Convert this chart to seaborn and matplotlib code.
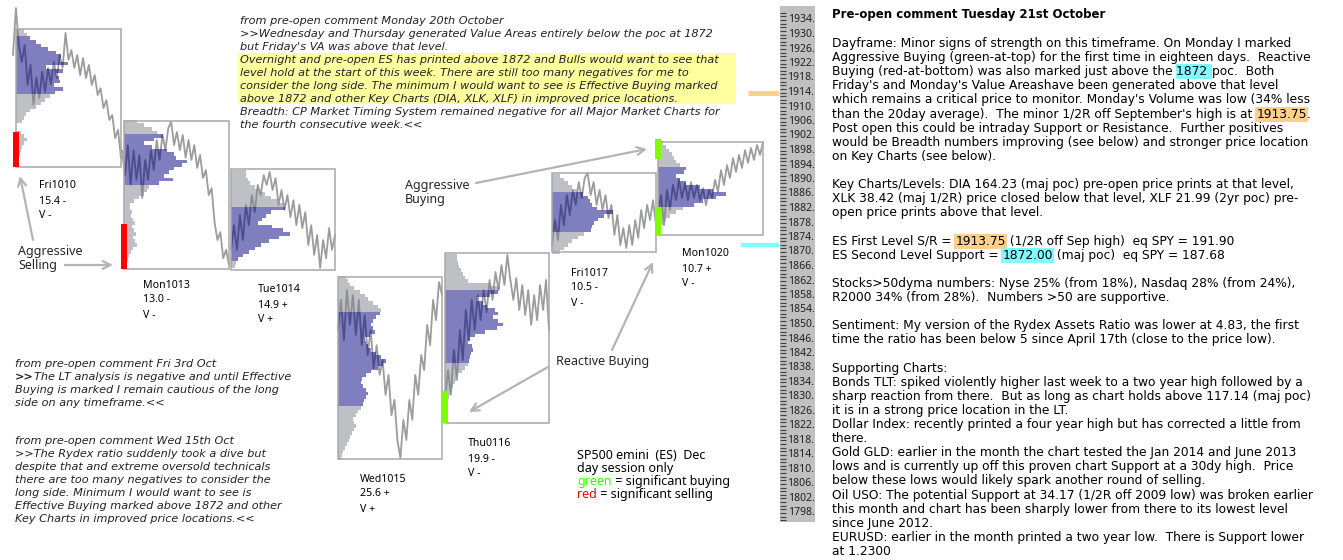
import numpy as np
import pandas as pd
import matplotlib
matplotlib.use("Agg")
import matplotlib.pyplot as plt
from matplotlib.patches import Rectangle
import seaborn as sns

# ------------------------------------------------------------------ data
days = ["Fri1010", "Mon1013", "Tue1014", "Wed1015", "Thu0116", "Fri1017", "Mon1020"]
day_range = ["15.4 -", "13.0 -", "14.9 +", "25.6 +", "19.9 -", "10.5 -", "10.7 +"]
day_volume = ["V -", "V -", "V +", "V +", "V -", "V -", "V -"]

window_high = [1931.5, 1906.1, 1892.8, 1863.0, 1869.8, 1891.7, 1900.4]
window_low = [1893.4, 1865.3, 1865.0, 1812.8, 1822.7, 1870.0, 1874.7]

price_fri1010 = [1924.3, 1937.3, 1927.1, 1922.4, 1927.1, 1916.1, 1921.6, 1910.6, 1918.0, 1912.5,
                 1919.7, 1914.1, 1920.8, 1916.3, 1922.4, 1918.0, 1924.3, 1920.8, 1930.4, 1923.0,
                 1925.7, 1920.8, 1924.3, 1918.8, 1923.5, 1918.0, 1921.6, 1916.1, 1918.8, 1913.3,
                 1915.2, 1909.7, 1911.9, 1906.4, 1907.8, 1901.4, 1903.7, 1895.9]
price_mon1013 = [1898.1, 1891.2, 1899.5, 1888.5, 1898.1, 1889.9, 1896.8, 1884.9, 1895.4, 1889.9,
                 1898.1, 1892.6, 1900.9, 1895.4, 1902.3, 1898.1, 1904.2, 1905.9, 1899.5, 1903.1,
                 1898.1, 1902.3, 1896.0, 1900.9, 1895.4, 1899.5, 1893.2, 1896.8, 1890.4, 1892.6,
                 1885.7, 1887.6, 1878.3, 1873.3, 1875.5, 1868.3, 1870.6, 1866.4]
price_tue1014 = [1870.6, 1877.4, 1870.6, 1880.2, 1873.3, 1883.0, 1877.4, 1885.7, 1881.0, 1888.5,
                 1885.7, 1891.2, 1888.5, 1892.1, 1887.1, 1890.4, 1883.0, 1887.1, 1881.7, 1885.7,
                 1879.6, 1884.3, 1877.4, 1883.0, 1876.6, 1881.0, 1871.9, 1877.4, 1869.2, 1874.7,
                 1865.6, 1873.3, 1868.3, 1876.6, 1870.6, 1874.7]
price_wed1015 = [1848.5, 1856.8, 1845.7, 1859.5, 1849.9, 1858.1, 1847.1, 1856.8, 1844.3, 1852.6,
                 1841.6, 1848.5, 1838.0, 1844.3, 1836.1, 1840.2, 1830.6, 1836.1, 1825.0, 1829.2,
                 1818.1, 1813.2, 1823.7, 1818.1, 1829.2, 1823.7, 1836.1, 1830.6, 1841.6, 1837.4,
                 1849.9, 1844.3, 1856.8, 1851.2, 1861.7, 1858.1]
price_thu1016 = [1829.2, 1837.4, 1830.6, 1843.0, 1834.7, 1848.5, 1840.2, 1854.0, 1845.7, 1856.8,
                 1848.5, 1858.1, 1851.2, 1859.5, 1853.4, 1862.3, 1856.8, 1864.5, 1859.5, 1866.4,
                 1860.9, 1869.2, 1862.3, 1856.8, 1862.8, 1854.0, 1860.9, 1852.6, 1859.5, 1849.9,
                 1858.1, 1851.2, 1860.9, 1854.0, 1862.3, 1848.5]
price_fri1017 = [1871.9, 1878.8, 1873.3, 1883.0, 1877.4, 1885.7, 1880.2, 1887.1, 1883.0, 1889.3,
                 1884.9, 1890.4, 1891.8, 1885.7, 1889.3, 1883.0, 1887.1, 1881.6, 1885.7, 1879.4,
                 1883.0, 1874.7, 1880.2, 1871.9, 1876.6, 1871.1, 1877.4, 1871.9, 1878.8, 1873.9,
                 1881.6, 1876.6, 1883.0, 1878.8, 1884.3, 1877.4]
price_mon1020 = [1880.2, 1885.7, 1877.4, 1887.1, 1881.6, 1888.5, 1884.3, 1889.9, 1884.9, 1889.0,
                 1884.3, 1889.3, 1884.9, 1888.5, 1884.3, 1887.6, 1882.9, 1887.1, 1884.9, 1889.9,
                 1886.6, 1892.6, 1888.5, 1894.0, 1890.4, 1895.9, 1892.1, 1896.8, 1893.2, 1898.1,
                 1894.6, 1898.7, 1895.4, 1899.5, 1896.8, 1900.3]
prices = [price_fri1010, price_mon1013, price_tue1014, price_wed1015,
          price_thu1016, price_fri1017, price_mon1020]

# volume profile (one row per index point, from profile_top downwards)
profile_top = [1931, 1906, 1892, 1863, 1869, 1891, 1900]
profile_fri1010 = [8, 11, 14, 20, 25, 32, 40, 45, 44, 52, 30, 47, 40, 43, 44, 38, 47, 39,
                   34, 29, 25, 20, 14, 10, 8, 6, 0, 0, 5, 8, 11, 8, 6, 5, 4, 3]
profile_mon1013 = [13, 20, 28, 33, 39, 30, 20, 28, 43, 50, 52, 63, 58, 50, 45, 40, 49, 35,
                   25, 23, 20, 15, 10, 6, 6, 8, 7, 9, 11, 8, 10, 12, 9, 11, 13, 9, 7, 5, 4, 3]
profile_tue1014 = [15, 15, 17, 19, 24, 28, 34, 40, 47, 52, 54, 40, 35, 31, 27, 41, 52, 59,
                   48, 38, 30, 24, 18, 12, 7, 5, 4]
profile_wed1015 = [8, 10, 12, 16, 22, 27, 30, 35, 40, 43, 42, 38, 35, 33, 35, 37, 32, 27, 28,
                   30, 33, 38, 43, 48, 45, 40, 33, 28, 24, 23, 25, 28, 30, 28, 26, 25, 23, 20,
                   18, 15, 16, 18, 16, 14, 12, 11, 9, 7, 5, 4, 3]
profile_thu1016 = [12, 12, 13, 14, 16, 18, 20, 23, 45, 55, 53, 45, 32, 38, 42, 50, 53, 48, 53,
                   58, 52, 40, 30, 25, 23, 27, 28, 26, 25, 24, 23, 20, 17, 13, 11, 10, 8, 6, 5,
                   4, 3, 3, 2]
profile_fri1017 = [8, 12, 16, 20, 25, 31, 36, 38, 40, 45, 61, 52, 46, 42, 40, 39, 32, 26, 20,
                   16, 12, 8]
profile_mon1020 = [5, 8, 11, 14, 16, 18, 22, 28, 26, 18, 22, 28, 42, 55, 68, 58, 45, 36, 25,
                   18, 12, 8, 5]
profiles = [profile_fri1010, profile_mon1013, profile_tue1014, profile_wed1015,
            profile_thu1016, profile_fri1017, profile_mon1020]
value_area_high = [1929, 1902, 1882, 1853, 1859, 1886, 1893]
value_area_low = [1914, 1889, 1868, 1828, 1840, 1876, 1883]

# significant buying / selling marks
signal_day = [0, 1, 4, 6, 6]
signal_side = ["sell", "sell", "buy", "buy", "buy"]
signal_low = [1893.4, 1865.3, 1822.8, 1895.6, 1874.7]
signal_high = [1903.1, 1877.7, 1831.7, 1901.2, 1882.4]

key_levels = [1913.75, 1872.00]
scale_ticks = list(range(1798, 1935, 4))

# ------------------------------------------------------------------ texts
title_right = "Pre-open comment Tuesday 21st October"
ORANGE_HL = "#ffd08a"
CYAN_HL = "#80ffff"
right_lines = [
    ["Dayframe: Minor signs of strength on this timeframe. On Monday I marked"],
    ["Aggressive Buying (green-at-top) for the first time in eighteen days.  Reactive"],
    ["Buying (red-at-bottom) was also marked just above the ", ("1872 ", {"bg": CYAN_HL}), "poc.  Both"],
    ["Friday's and Monday's Value Areashave been generated above that level"],
    ["which remains a critical price to monitor. Monday's Volume was low (34% less"],
    ["than the 20day average).  The minor 1/2R off September's high is at ",
     ("1913.75", {"bg": ORANGE_HL}), "."],
    ["Post open this could be intraday Support or Resistance.  Further positives"],
    ["would be Breadth numbers improving (see below) and stronger price location"],
    ["on Key Charts (see below)."],
    [],
    ["Key Charts/Levels: DIA 164.23 (maj poc) pre-open price prints at that level,"],
    ["XLK 38.42 (maj 1/2R) price closed below that level, XLF 21.99 (2yr poc) pre-"],
    ["open price prints above that level."],
    [],
    ["ES First Level S/R = ", ("1913.75", {"bg": ORANGE_HL}), " (1/2R off Sep high)  eq SPY = 191.90"],
    ["ES Second Level Support = ", ("1872.00", {"bg": CYAN_HL}), " (maj poc)  eq SPY = 187.68"],
    [],
    ["Stocks>50dyma numbers: Nyse 25% (from 18%), Nasdaq 28% (from 24%),"],
    ["R2000 34% (from 28%).  Numbers >50 are supportive."],
    [],
    ["Sentiment: My version of the Rydex Assets Ratio was lower at 4.83, the first"],
    ["time the ratio has been below 5 since April 17th (close to the price low)."],
    [],
    ["Supporting Charts:"],
    ["Bonds TLT: spiked violently higher last week to a two year high followed by a"],
    ["sharp reaction from there.  But as long as chart holds above 117.14 (maj poc)"],
    ["it is in a strong price location in the LT."],
    ["Dollar Index: recently printed a four year high but has corrected a little from"],
    ["there."],
    ["Gold GLD: earlier in the month the chart tested the Jan 2014 and June 2013"],
    ["lows and is currently up off this proven chart Support at a 30dy high.  Price"],
    ["below these lows would likely spark another round of selling."],
    ["Oil USO: The potential Support at 34.17 (1/2R off 2009 low) was broken earlier"],
    ["this month and chart has been sharply lower from there to its lowest level"],
    ["since June 2012."],
    ["EURUSD: earlier in the month printed a two year low.  There is Support lower"],
    ["at 1.2300"],
]
note_top = [
    ["from pre-open comment Monday 20th October"],
    [">>Wednesday and Thursday generated Value Areas entirely below the poc at 1872"],
    ["but Friday's VA was above that level."],
    ["Overnight and pre-open ES has printed above 1872 and Bulls would want to see that"],
    ["level hold at the start of this week. There are still too many negatives for me to"],
    ["consider the long side. The minimum I would want to see is Effective Buying marked"],
    ["above 1872 and other Key Charts (DIA, XLK, XLF) in improved price locations."],
    ["Breadth: CP Market Timing System remained negative for all Major Market Charts for"],
    ["the fourth consecutive week.<<"],
]
note_oct3 = [
    ["from pre-open comment Fri 3rd Oct"],
    [(">>", {"weight": "bold"}), "The LT analysis is negative and until Effective"],
    ["Buying is marked I remain cautious of the long"],
    ["side on any timeframe.<<"],
]
note_oct15 = [
    ["from pre-open comment Wed 15th Oct"],
    [">>The Rydex ratio suddenly took a dive but"],
    ["despite that and extreme oversold technicals"],
    ["there are too many negatives to consider the"],
    ["long side. Minimum I would want to see is"],
    ["Effective Buying marked above 1872 and other"],
    ["Key Charts in improved price locations.<<"],
]
legend_lines = [
    ["SP500 emini  (ES)  Dec"],
    ["day session only"],
    [("green", {"color": "#33ff00"}), " = significant buying"],
    [("red", {"color": "#ff0000"}), " = significant selling"],
]

# ------------------------------------------------------------------ layout / style
W, H = 1343, 560
PX_PER_PT = 3.625
P_TOP = 1934 + 20 / PX_PER_PT
P_BOT = P_TOP - H / PX_PER_PT
panel_left = [16, 124, 231, 338, 445, 552, 658]
panel_right = [121, 229, 335, 442, 549, 656, 763]
line_start = [13, 122, 231, 338, 445, 552, 658]
label_xy = [(39, 186), (143, 285), (258, 290), (360, 479), (468, 444), (571, 273), (682, 254)]

VA_COLOR = "#000080"
OUT_COLOR = "#80808f"
LINE_COLOR = "#9c9c9c"
BOX_COLOR = "#a8a8a8"
ARROW_COLOR = "#b4b4b4"
SIDE_COLOR = {"sell": "#ff0000", "buy": "#80ff00"}

sns.set_theme(style="white")
plt.rcParams["font.family"] = ["DejaVu Sans"]

fig = plt.figure(figsize=(W / 100, H / 100), dpi=100)
fig.patch.set_facecolor("white")

# ---------------- market profile panels
ax = fig.add_axes([0, 0, 780 / W, 1])
frames = []
for i, pr in enumerate(prices):
    xs = np.linspace(line_start[i], panel_right[i], len(pr))
    frames.append(pd.DataFrame({"x": xs, "price": pr, "day": days[i]}))
df = pd.concat(frames, ignore_index=True)
sns.lineplot(data=df, x="x", y="price", units="day", estimator=None, sort=False,
             color=LINE_COLOR, lw=1.3, ax=ax, legend=False, zorder=2)

for i, prof in enumerate(profiles):
    levels = profile_top[i] - np.arange(len(prof))
    cols = [VA_COLOR if value_area_low[i] <= lv <= value_area_high[i] else OUT_COLOR
            for lv in levels]
    ax.barh(levels, prof, left=panel_left[i], height=1.0, color=cols, alpha=0.5,
            lw=0, antialiased=False, zorder=3)
    ax.add_patch(Rectangle((panel_left[i], window_low[i]), panel_right[i] - panel_left[i],
                           window_high[i] - window_low[i], fill=False, ec=BOX_COLOR,
                           lw=1.1, zorder=4))

for d, side, lo, hi in zip(signal_day, signal_side, signal_low, signal_high):
    ax.bar(panel_left[d], hi - lo, bottom=lo, width=6, color=SIDE_COLOR[side], lw=0, zorder=5)

ax.hlines(key_levels, [748, 741], 779, colors=[ORANGE_HL, CYAN_HL], lw=[3.6, 3.0], zorder=5)
ax.set_xlim(0, 780)
ax.set_ylim(P_BOT, P_TOP)
ax.axis("off")

# ---------------- price scale strip
S_TOP, S_BOT = 6, 522
axs = fig.add_axes([780 / W, 1 - S_BOT / H, 35 / W, (S_BOT - S_TOP) / H])
axs.set_facecolor("#c0c0c0")
axs.set_xlim(0, 1)
axs.set_ylim(P_TOP - S_BOT / PX_PER_PT, P_TOP - S_TOP / PX_PER_PT)
axs.set_xticks([])
axs.set_yticks(scale_ticks)
axs.set_yticks(np.arange(1796, 1937, 1.0), minor=True)
axs.tick_params(axis="y", which="both", left=True, right=False, direction="in",
                length=4, width=0.8, color="#404040", labelleft=False, labelright=False)
for s in axs.spines.values():
    s.set_visible(False)
for v in scale_ticks:
    axs.text(0.98, v, f"{v}.", ha="right", va="center", fontsize=7.5,
             family=["Noto Sans"], color="#202020")

# ---------------- text overlay (pixel coordinates)
tx = fig.add_axes([0, 0, 1, 1], zorder=3)
tx.set_xlim(0, W)
tx.set_ylim(H, 0)
tx.axis("off")
R = fig.canvas.get_renderer()


def text_width(s, **kw):
    t = tx.text(0, 0, s, **kw)
    w = t.get_window_extent(renderer=R).width
    t.remove()
    return w


def seg_line(x, y, segs, size, family, style="normal", color="black", weight="normal"):
    cur = x
    for seg in segs:
        if isinstance(seg, str):
            seg = (seg, {})
        s, opt = seg
        kw = dict(fontsize=size, family=family, style=style,
                  weight=opt.get("weight", weight))
        t = tx.text(cur, y, s, color=opt.get("color", color),
                    ha="left", va="center_baseline", zorder=5, **kw)
        if "bg" in opt:
            t.set_bbox(dict(boxstyle="square,pad=0.08", fc=opt["bg"], ec="none"))
        core = s.rstrip(" ")
        n_trail = len(s) - len(core)
        space_w = text_width("a a", **kw) - text_width("aa", **kw)
        cur += text_width(core + "a", **kw) - text_width("a", **kw) + n_trail * space_w


# right commentary
seg_line(832, 13, [title_right], 8.5, ["DejaVu Sans"], weight="bold")
for i, segs in enumerate(right_lines):
    if segs:
        seg_line(832, 42 + 14.11 * i, segs, 8.85, ["DejaVu Sans"])

# italic notes
tx.add_patch(Rectangle((238, 53), 498, 51, fc="#ffffa0", ec="none", zorder=0))
ITAL = ["DejaVu Sans"]
for i, segs in enumerate(note_top):
    seg_line(240, 20 + 13 * i, segs, 8.1, ITAL, style="italic", color="#222222")
for i, segs in enumerate(note_oct3):
    seg_line(15, 363 + 13 * i, segs, 8.1, ITAL, style="italic", color="#222222")
for i, segs in enumerate(note_oct15):
    seg_line(15, 440 + 13 * i, segs, 8.1, ITAL, style="italic", color="#222222")

# day labels
LAB = ["Noto Sans"]
for i, (x, y) in enumerate(label_xy):
    for j, s in enumerate([days[i], day_range[i], day_volume[i]]):
        tx.text(x, y + 15 * j, s, fontsize=7.6, family=LAB, va="center", ha="left", color="black")

# legend block
for i, segs in enumerate(legend_lines):
    seg_line(577, 454 + 13 * i, segs, 9.0, LAB)

# annotations
tx.text(18, 252, "Aggressive", fontsize=9, family=LAB, va="center")
tx.text(18, 265, "Selling", fontsize=9, family=LAB, va="center")
tx.text(405, 186, "Aggressive", fontsize=9, family=LAB, va="center")
tx.text(405, 199, "Buying", fontsize=9, family=LAB, va="center")
tx.text(556, 362, "Reactive Buying", fontsize=9, family=LAB, va="center")

arrows = [((33, 240), (20, 176)), ((65, 265), (113, 265)), ((476, 183), (647, 149)),
          ((612, 350), (653, 262)), ((548, 367), (469, 412))]
for (x0, y0), (x1, y1) in arrows:
    tx.annotate("", xy=(x1, y1), xytext=(x0, y0),
                arrowprops=dict(arrowstyle="->", color=ARROW_COLOR, lw=1.6,
                                mutation_scale=14, shrinkA=0, shrinkB=0))

fig.savefig("out.png", dpi=100, facecolor="white")
